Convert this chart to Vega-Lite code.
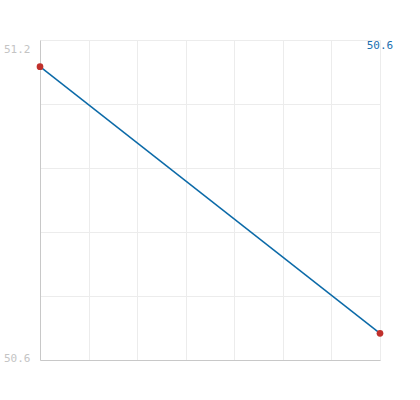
{
  "$schema": "https://vega.github.io/schema/vega-lite/v6.json",
  "width": 340,
  "height": 320,
  "autosize": {"type": "none"},
  "padding": {"left": 40, "top": 40, "right": 40, "bottom": 40},
  "background": "white",
  "config": {"view": {"stroke": null}, "font": "DejaVu Sans Mono"},
  "data": {"values": [
    {"x": 0, "v": 51.15},
    {"x": 7, "v": 50.65}
  ]},
  "layer": [
    {
      "mark": {"type": "line", "color": "#0b6aa8", "strokeWidth": 1.5},
      "encoding": {
        "x": {"field": "x", "type": "quantitative", "scale": {"domain": [0, 7], "nice": false, "zero": false},
          "axis": {"title": null, "labels": false, "ticks": false, "values": [0,1,2,3,4,5,6,7], "domainColor": "#c8c8c8", "gridColor": "#ececec", "grid": true}},
        "y": {"field": "v", "type": "quantitative", "scale": {"domain": [50.6, 51.2], "nice": false, "zero": false},
          "axis": {"title": null, "ticks": false, "values": [50.6, 50.72, 50.84, 50.96, 51.08, 51.2],
            "labelExpr": "abs(datum.value-50.6)<0.001 || abs(datum.value-51.2)<0.001 ? format(datum.value, '.1f') : ''",
            "labelColor": "#c4c4c4", "labelFontSize": 11, "labelFont": "DejaVu Sans Mono", "labelPadding": 10,
            "labelFlush": true, "labelOffset": 3,
            "domainColor": "#c8c8c8", "gridColor": "#ececec", "grid": true}}
      }
    },
    {
      "mark": {"type": "circle", "color": "#c0302c", "size": 45, "opacity": 1},
      "encoding": {
        "x": {"field": "x", "type": "quantitative"},
        "y": {"field": "v", "type": "quantitative"}
      }
    },
    {
      "transform": [{"filter": "datum.x == 7"}],
      "mark": {"type": "text", "color": "#1a6fb0", "font": "DejaVu Sans Mono", "fontSize": 11, "align": "center", "baseline": "top", "dy": 0},
      "encoding": {
        "x": {"field": "x", "type": "quantitative"},
        "y": {"datum": 51.2, "type": "quantitative"},
        "text": {"value": "50.6"}
      }
    }
  ]
}
